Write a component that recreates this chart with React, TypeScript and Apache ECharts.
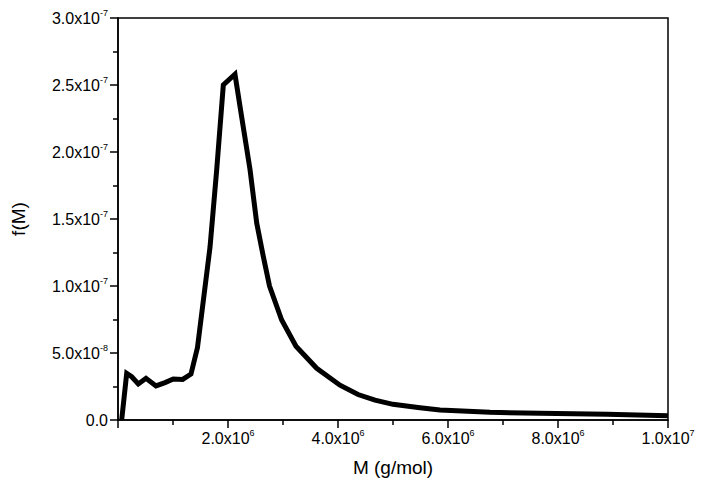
import React, { useEffect, useRef } from "react";
import * as echarts from "echarts";

// Molar mass (units of 1e6 g/mol) and f(M) (units of 1e-8)
const massMillions = [
  0.067, 0.158, 0.249, 0.369, 0.509, 0.691, 0.855, 1.005, 1.176, 1.327,
  1.445, 1.673, 1.795, 1.915, 2.127, 2.249, 2.4, 2.522, 2.642, 2.755,
  2.976, 3.236, 3.613, 4.036, 4.364, 4.673, 5.0, 5.49, 5.855, 6.764,
  7.673, 8.89, 10.0,
];
const fValues1e8 = [
  0, 3.48, 3.23, 2.69, 3.11, 2.54, 2.79, 3.06, 3.03, 3.43,
  5.4, 12.9, 18.7, 25.0, 25.8, 22.6, 18.7, 14.7, 12.2, 10.0,
  7.46, 5.5, 3.86, 2.6, 1.9, 1.48, 1.17, 0.92, 0.75, 0.57,
  0.5, 0.42, 0.32,
];

const xTickLabels: Record<string, string> = {
  "2000000": "{a|2.0x10}{b|6}",
  "4000000": "{a|4.0x10}{b|6}",
  "6000000": "{a|6.0x10}{b|6}",
  "8000000": "{a|8.0x10}{b|6}",
  "10000000": "{a|1.0x10}{b|7}",
};
const yTickLabels = [
  "{a|0.0}",
  "{a|5.0x10}{b|-8}",
  "{a|1.0x10}{b|-7}",
  "{a|1.5x10}{b|-7}",
  "{a|2.0x10}{b|-7}",
  "{a|2.5x10}{b|-7}",
  "{a|3.0x10}{b|-7}",
];

const FONT = "'Liberation Sans', Arial, sans-serif";

export default function App() {
  const ref = useRef<HTMLDivElement>(null);
  useEffect(() => {
    if (!ref.current) return;
    const chart = echarts.init(ref.current, undefined, { renderer: "svg" });
    const data = massMillions.map((m, i) => [m * 1e6, fValues1e8[i] * 1e-8]);
    const rich = {
      a: { fontSize: 16, lineHeight: 20, color: "#000", fontFamily: FONT },
      b: { fontSize: 9, lineHeight: 9, verticalAlign: "top" as const, color: "#000", fontFamily: FONT },
    };
    chart.setOption({
      animation: false,
      backgroundColor: "#fff",
      grid: {
        left: 118,
        top: 18,
        right: 36,
        bottom: 72,
        show: true,
        borderColor: "#000",
        borderWidth: 1.5,
        backgroundColor: "transparent",
      },
      xAxis: {
        type: "value",
        min: 0,
        max: 1e7,
        interval: 2e6,
        name: "M (g/mol)",
        nameLocation: "middle",
        nameGap: 38,
        nameTextStyle: { fontSize: 19, color: "#000", fontFamily: FONT },
        axisLine: { show: true, lineStyle: { color: "#000", width: 1.5 } },
        axisTick: { show: true, length: 8, lineStyle: { color: "#000", width: 1.5 } },
        minorTick: { show: true, splitNumber: 2, length: 5, lineStyle: { color: "#000", width: 1.5 } },
        splitLine: { show: false },
        axisLabel: {
          margin: 8,
          formatter: (v: number) => xTickLabels[String(Math.round(v))] || "",
          rich,
        },
      },
      yAxis: {
        type: "value",
        min: 0,
        max: 3e-7,
        interval: 5e-8,
        name: "f(M)",
        nameLocation: "middle",
        nameGap: 90,
        nameTextStyle: { fontSize: 19, color: "#000", fontFamily: FONT },
        axisLine: { show: true, lineStyle: { color: "#000", width: 1.5 } },
        axisTick: { show: true, length: 8, lineStyle: { color: "#000", width: 1.5 } },
        minorTick: { show: true, splitNumber: 2, length: 5, lineStyle: { color: "#000", width: 1.5 } },
        splitLine: { show: false },
        axisLabel: {
          margin: 10,
          formatter: (v: number) => yTickLabels[Math.round(v / 5e-8)] || "",
          rich,
        },
      },
      series: [
        {
          type: "line",
          data,
          showSymbol: false,
          symbol: "none",
          lineStyle: { color: "#000", width: 5, join: "miter", cap: "butt" },
          clip: true,
        },
      ],
    });
    return () => chart.dispose();
  }, []);
  return <div ref={ref} style={{ width: 704, height: 492, position: "absolute", left: 0, top: 0 }} />;
}
